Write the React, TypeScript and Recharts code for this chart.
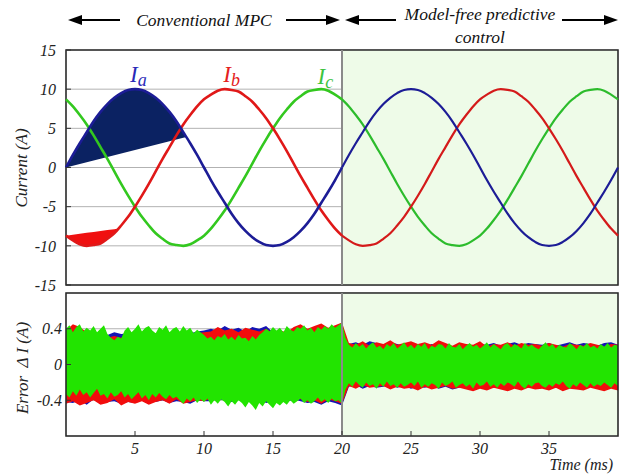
import React from 'react';
import {
  ComposedChart,
  Line,
  Area,
  XAxis,
  YAxis,
  CartesianGrid,
  ReferenceArea,
  ReferenceLine,
  ReferenceDot,
} from 'recharts';

const FONT = 'Liberation Serif, Tinos, Times, Nimbus Roman, DejaVu Serif, serif';

// ---------- data ----------
const TIME_STEP_MS = 0.5;
const ERR_STEP_MS = 0.25;
const SWITCH_MS = 20;
const X_TICKS = [5, 10, 15, 20, 25, 30, 35];
const Y_TICKS_TOP = [-15, -10, -5, 0, 5, 10, 15];
const Y_TICKS_ERR = [-0.4, 0, 0.4];

const IA = [
  0, 1.6, 3.1, 4.5, 5.9, 7.1, 8.1, 8.9, 9.5, 9.9, 10, 9.9, 9.5, 8.9, 8.1, 7.1, 5.9, 4.5, 3.1, 1.6,
  0, -1.6, -3.1, -4.5, -5.9, -7.1, -8.1, -8.9, -9.5, -9.9, -10, -9.9, -9.5, -8.9, -8.1, -7.1, -5.9, -4.5, -3.1, -1.6,
  0, 1.6, 3.1, 4.5, 5.9, 7.1, 8.1, 8.9, 9.5, 9.9, 10, 9.9, 9.5, 8.9, 8.1, 7.1, 5.9, 4.5, 3.1, 1.6,
  0, -1.6, -3.1, -4.5, -5.9, -7.1, -8.1, -8.9, -9.5, -9.9, -10, -9.9, -9.5, -8.9, -8.1, -7.1, -5.9, -4.5, -3.1, -1.6,
  0,
];
const IB = [
  -8.7, -9.3, -9.8, -10, -9.9, -9.7, -9.1, -8.4, -7.4, -6.3, -5, -3.6, -2.1, -0.5, 1.1, 2.6, 4.1, 5.5, 6.7, 7.8,
  8.7, 9.3, 9.8, 10, 9.9, 9.7, 9.1, 8.4, 7.4, 6.3, 5, 3.6, 2.1, 0.5, -1.1, -2.6, -4.1, -5.5, -6.7, -7.8,
  -8.7, -9.3, -9.8, -10, -9.9, -9.7, -9.1, -8.4, -7.4, -6.3, -5, -3.6, -2.1, -0.5, 1.1, 2.6, 4.1, 5.5, 6.7, 7.8,
  8.7, 9.3, 9.8, 10, 9.9, 9.7, 9.1, 8.4, 7.4, 6.3, 5, 3.6, 2.1, 0.5, -1.1, -2.6, -4.1, -5.5, -6.7, -7.8,
  -8.7,
];
const IC = [
  8.7, 7.8, 6.7, 5.5, 4.1, 2.6, 1.1, -0.5, -2.1, -3.6, -5, -6.3, -7.4, -8.4, -9.1, -9.7, -9.9, -10, -9.8, -9.3,
  -8.7, -7.8, -6.7, -5.5, -4.1, -2.6, -1.1, 0.5, 2.1, 3.6, 5, 6.3, 7.4, 8.4, 9.1, 9.7, 9.9, 10, 9.8, 9.3,
  8.7, 7.8, 6.7, 5.5, 4.1, 2.6, 1.1, -0.5, -2.1, -3.6, -5, -6.3, -7.4, -8.4, -9.1, -9.7, -9.9, -10, -9.8, -9.3,
  -8.7, -7.8, -6.7, -5.5, -4.1, -2.6, -1.1, 0.5, 2.1, 3.6, 5, 6.3, 7.4, 8.4, 9.1, 9.7, 9.9, 10, 9.8, 9.3,
  8.7,
];

// end points (time ms, current A) of the filled chords on Ia and Ib
const IA_FILL_END = [8.75, 3.9];
const IB_FILL_END = [3.8, -7.8];

// green (Ic error) envelope, 0.25 ms resolution
const G_HI = [
  0.40, 0.44, 0.36, 0.42, 0.45, 0.37, 0.41, 0.38, 0.43, 0.36, 0.40, 0.44, 0.34, 0.30, 0.27, 0.31,
  0.29, 0.38, 0.42, 0.36, 0.40, 0.45, 0.37, 0.41, 0.43, 0.38, 0.35, 0.42, 0.39, 0.44, 0.36, 0.40,
  0.42, 0.37, 0.43, 0.38, 0.41, 0.35, 0.39, 0.36, 0.33, 0.29, 0.31, 0.27, 0.32, 0.30, 0.34, 0.28,
  0.31, 0.27, 0.33, 0.29, 0.30, 0.26, 0.32, 0.28, 0.33, 0.36, 0.40, 0.37, 0.42, 0.38, 0.41, 0.36,
  0.43, 0.39, 0.37, 0.42, 0.40, 0.44, 0.38, 0.41, 0.36, 0.42, 0.39, 0.43, 0.40, 0.45, 0.41, 0.44,
  0.47,
  0.30, 0.22, 0.19, 0.24, 0.20, 0.23, 0.18, 0.22, 0.25, 0.19, 0.21, 0.17, 0.23, 0.20, 0.24, 0.18,
  0.21, 0.25, 0.19, 0.22, 0.18, 0.23, 0.20, 0.24, 0.17, 0.21, 0.19, 0.23, 0.22, 0.18, 0.24, 0.20,
  0.19, 0.23, 0.17, 0.21, 0.24, 0.20, 0.22, 0.18, 0.21, 0.25, 0.19, 0.23, 0.20, 0.17, 0.22, 0.24,
  0.19, 0.23, 0.21, 0.18, 0.24, 0.20, 0.22, 0.19, 0.17, 0.21, 0.25, 0.20, 0.23, 0.18, 0.22, 0.20,
  0.19, 0.24, 0.21, 0.17, 0.22, 0.20, 0.24, 0.19, 0.21, 0.18, 0.23, 0.20, 0.24, 0.19, 0.22, 0.21,
];
const G_LO = [
  -0.33, -0.37, -0.30, -0.35, -0.28, -0.34, -0.31, -0.37, -0.32, -0.27, -0.35, -0.33, -0.38, -0.31, -0.36, -0.34,
  -0.30, -0.37, -0.33, -0.39, -0.35, -0.31, -0.38, -0.34, -0.40, -0.33, -0.37, -0.32, -0.36, -0.39, -0.34, -0.38,
  -0.36, -0.40, -0.44, -0.38, -0.41, -0.37, -0.43, -0.39, -0.42, -0.38, -0.45, -0.40, -0.44, -0.39, -0.42, -0.47,
  -0.41, -0.45, -0.40, -0.43, -0.48, -0.42, -0.46, -0.51, -0.43, -0.47, -0.41, -0.45, -0.49, -0.43, -0.46, -0.42,
  -0.45, -0.40, -0.44, -0.41, -0.38, -0.43, -0.40, -0.44, -0.41, -0.37, -0.42, -0.39, -0.43, -0.38, -0.41, -0.40,
  -0.44,
  -0.28, -0.21, -0.25, -0.19, -0.23, -0.26, -0.20, -0.24, -0.22, -0.27, -0.21, -0.25, -0.19, -0.24, -0.22, -0.26,
  -0.21, -0.25, -0.23, -0.20, -0.24, -0.19, -0.26, -0.22, -0.25, -0.21, -0.23, -0.27, -0.20, -0.24, -0.22, -0.19,
  -0.26, -0.23, -0.21, -0.25, -0.22, -0.27, -0.20, -0.24, -0.23, -0.19, -0.25, -0.22, -0.26, -0.21, -0.24, -0.20,
  -0.22, -0.25, -0.19, -0.24, -0.27, -0.22, -0.25, -0.21, -0.20, -0.24, -0.26, -0.22, -0.25, -0.21, -0.23, -0.19,
  -0.24, -0.27, -0.22, -0.25, -0.20, -0.23, -0.26, -0.21, -0.25, -0.22, -0.24, -0.20, -0.23, -0.26, -0.21, -0.24,
];

// red (Ib error) and blue (Ia error) envelopes, 0.5 ms resolution
const R_HI = [
  0.38, 0.45, 0.42, 0.36, 0.33, 0.35, 0.30, 0.32, 0.30, 0.36, 0.34, 0.37, 0.33, 0.35, 0.32, 0.36, 0.34, 0.37, 0.33, 0.35, 0.36,
  0.37, 0.42, 0.38, 0.40, 0.36, 0.41, 0.39, 0.37, 0.40, 0.35, 0.38, 0.36, 0.42, 0.45, 0.40, 0.43, 0.46, 0.41, 0.44, 0.47,
  0.24, 0.22, 0.26, 0.21, 0.25, 0.23, 0.27, 0.22, 0.24, 0.26, 0.23, 0.25, 0.22, 0.27, 0.24, 0.21, 0.25, 0.23, 0.22, 0.26,
  0.20, 0.23, 0.22, 0.25, 0.21, 0.24, 0.22, 0.23, 0.21, 0.24, 0.22, 0.20, 0.23, 0.22, 0.21, 0.24, 0.22, 0.20, 0.23, 0.22,
];
const R_LO = [
  -0.44, -0.41, -0.46, -0.43, -0.40, -0.45, -0.43, -0.39, -0.46, -0.42, -0.44, -0.41, -0.45, -0.42, -0.40, -0.44, -0.39, -0.44, -0.42, -0.40, -0.41,
  -0.38, -0.35, -0.37, -0.39, -0.36, -0.38, -0.40, -0.37, -0.39, -0.36, -0.38, -0.40, -0.37, -0.39, -0.42, -0.40, -0.44, -0.39, -0.41, -0.44,
  -0.24, -0.27, -0.23, -0.26, -0.25, -0.24, -0.28, -0.25, -0.27, -0.26, -0.29, -0.25, -0.28, -0.26, -0.24, -0.27, -0.26, -0.28, -0.30, -0.27,
  -0.29, -0.26, -0.28, -0.30, -0.27, -0.29, -0.26, -0.28, -0.27, -0.29, -0.26, -0.30, -0.27, -0.28, -0.29, -0.26, -0.28, -0.30, -0.27, -0.29,
];
const B_HI = [
  0.35, 0.37, 0.34, 0.38, 0.36, 0.35, 0.33, 0.36, 0.34, 0.35, 0.33, 0.36, 0.34, 0.32, 0.35, 0.34, 0.33, 0.36, 0.35, 0.37, 0.38,
  0.40, 0.38, 0.43, 0.39, 0.41, 0.37, 0.42, 0.40, 0.43, 0.36, 0.35, 0.37, 0.34, 0.36, 0.35, 0.37, 0.34, 0.36, 0.35, 0.38,
  0.23, 0.25, 0.22, 0.26, 0.24, 0.22, 0.25, 0.23, 0.21, 0.24, 0.22, 0.20, 0.23, 0.21, 0.22, 0.20, 0.23, 0.22, 0.21, 0.23,
  0.22, 0.24, 0.21, 0.23, 0.25, 0.22, 0.24, 0.23, 0.22, 0.24, 0.21, 0.23, 0.25, 0.22, 0.24, 0.23, 0.21, 0.24, 0.25, 0.22,
];
const B_LO = [
  -0.42, -0.43, -0.40, -0.45, -0.39, -0.43, -0.42, -0.41, -0.44, -0.42, -0.43, -0.39, -0.41, -0.42, -0.40, -0.43, -0.41, -0.42, -0.44, -0.40, -0.41,
  -0.41, -0.39, -0.40, -0.42, -0.38, -0.41, -0.40, -0.39, -0.43, -0.41, -0.40, -0.42, -0.39, -0.41, -0.43, -0.42, -0.45, -0.41, -0.43, -0.46,
  -0.25, -0.23, -0.27, -0.24, -0.26, -0.25, -0.23, -0.26, -0.24, -0.27, -0.25, -0.26, -0.24, -0.27, -0.25, -0.28, -0.26, -0.24, -0.27, -0.25,
  -0.24, -0.26, -0.25, -0.23, -0.25, -0.24, -0.26, -0.23, -0.25, -0.24, -0.26, -0.25, -0.23, -0.26, -0.24, -0.25, -0.23, -0.26, -0.24, -0.25,
];

// ---------- build tables ----------
const TIME = IA.map((_, i) => i * TIME_STEP_MS);

const chordIA = (t: number) => IA[0] + ((IA_FILL_END[1] - IA[0]) * t) / IA_FILL_END[0];
const chordIB = (t: number) => IB[0] + ((IB_FILL_END[1] - IB[0]) * t) / IB_FILL_END[0];

const topRows: any[] = TIME.map((t, i) => {
  const row: any = { t };
  if (t <= SWITCH_MS) {
    row.ia1 = IA[i];
    row.ib1 = IB[i];
    row.ic1 = IC[i];
  }
  if (t >= SWITCH_MS) {
    row.ia2 = IA[i];
    row.ib2 = IB[i];
    row.ic2 = IC[i];
  }
  if (t < IA_FILL_END[0]) row.iaFill = [chordIA(t), IA[i]];
  if (t < IB_FILL_END[0]) row.ibFill = [IB[i], chordIB(t)];
  return row;
});
topRows.push({ t: IA_FILL_END[0], iaFill: [IA_FILL_END[1], IA_FILL_END[1]] });
topRows.push({ t: IB_FILL_END[0], ibFill: [IB_FILL_END[1], IB_FILL_END[1]] });
topRows.sort((a, b) => a.t - b.t);

const errRows = G_HI.map((_, j) => {
  const t = j * ERR_STEP_MS;
  const row: any = { t, g: [G_LO[j], G_HI[j]] };
  if (j % 2 === 0) {
    const i = j / 2;
    row.r = [R_LO[i], R_HI[i]];
    row.b = [B_LO[i], B_HI[i]];
  }
  return row;
});

// ---------- styling ----------
const C_A = '#1c1c96';
const C_A_FILL = '#0b2262';
const C_B = '#e01818';
const C_C = '#2cbc2c';
const SHADE = '#eefbe8';
const tickStyle = { fontFamily: FONT, fontStyle: 'italic', fontSize: 16, fill: '#222' };

const PhaseLabel = (props: any) => {
  const vb = props.viewBox || {};
  const x = (vb.x || 0) + (vb.width || 0) / 2;
  const y = (vb.y || 0) + (vb.height || 0) / 2;
  return (
    <text x={x} y={y} textAnchor="middle" fill={props.color} style={{ fontFamily: FONT, fontStyle: 'italic', fontSize: 23 }}>
      I
      <tspan style={{ fontSize: 18 }} dy={4}>
        {props.sub}
      </tspan>
    </text>
  );
};

const Arrow = ({ tail, head, y }: { tail: number; head: number; y: number }) => {
  const d = head > tail ? 1 : -1;
  return (
    <g>
      <line x1={tail} y1={y} x2={head - d * 10} y2={y} stroke="#000" strokeWidth={2} />
      <polygon points={`${head - d * 14},${y - 5} ${head},${y} ${head - d * 14},${y + 5}`} fill="#000" />
    </g>
  );
};

const headText = { fontFamily: FONT, fontStyle: 'italic' as const, fontSize: 17.5 };

export default function App() {
  return (
    <div style={{ position: 'absolute', left: 0, top: 0, width: 627, height: 476, background: '#fff', fontFamily: FONT }}>
      <div style={{ position: 'absolute', left: 0, top: 0 }}>
        <ComposedChart width={627} height={300} data={topRows} margin={{ top: 50, right: 0, bottom: 15, left: 0 }}>
          <XAxis type="number" dataKey="t" domain={[0, 40]} hide />
          <YAxis
            yAxisId="l"
            type="number"
            domain={[-15, 15]}
            ticks={Y_TICKS_TOP}
            width={66}
            axisLine={false}
            tickSize={-5}
            tickMargin={15}
            tickLine={{ stroke: '#333' }}
            tick={tickStyle}
            interval={0}
          />
          <YAxis
            yAxisId="r"
            orientation="right"
            type="number"
            domain={[-15, 15]}
            ticks={Y_TICKS_TOP}
            width={9}
            axisLine={false}
            tickSize={-5}
            tickLine={{ stroke: '#333' }}
            tickFormatter={() => ''}
            interval={0}
          />
          <ReferenceArea yAxisId="l" x1={SWITCH_MS} x2={40} y1={-15} y2={15} fill={SHADE} fillOpacity={1} stroke="none" />
          <CartesianGrid yAxisId="l" vertical={false} stroke="#b2b2b2" strokeWidth={1} />
          <ReferenceLine yAxisId="l" x={SWITCH_MS} stroke="#8a8a8a" strokeWidth={2} />
          <Area yAxisId="l" type="linear" dataKey="iaFill" stroke="none" fill={C_A_FILL} fillOpacity={1} isAnimationActive={false} connectNulls />
          <Area yAxisId="l" type="linear" dataKey="ibFill" stroke="none" fill="#f01010" fillOpacity={1} isAnimationActive={false} connectNulls />
          <Line yAxisId="l" type="monotone" dataKey="ic1" stroke="#33c81f" strokeWidth={2.6} dot={false} connectNulls isAnimationActive={false} />
          <Line yAxisId="l" type="monotone" dataKey="ib1" stroke={C_B} strokeWidth={2.6} dot={false} connectNulls isAnimationActive={false} />
          <Line yAxisId="l" type="monotone" dataKey="ia1" stroke={C_A} strokeWidth={2.6} dot={false} connectNulls isAnimationActive={false} />
          <Line yAxisId="l" type="monotone" dataKey="ic2" stroke={C_C} strokeWidth={2.2} dot={false} connectNulls isAnimationActive={false} />
          <Line yAxisId="l" type="monotone" dataKey="ib2" stroke="#d41a1a" strokeWidth={2.2} dot={false} connectNulls isAnimationActive={false} />
          <Line yAxisId="l" type="monotone" dataKey="ia2" stroke={C_A} strokeWidth={2.2} dot={false} connectNulls isAnimationActive={false} />
          <ReferenceArea yAxisId="l" x1={0} x2={40} y1={-15} y2={15} fill="none" stroke="#2a2a2a" strokeWidth={1.6} />
          <ReferenceDot yAxisId="l" x={5.25} y={10.9} r={0} fill="none" stroke="none" label={<PhaseLabel sub="a" color="#2a2ab8" />} />
          <ReferenceDot yAxisId="l" x={12.0} y={10.9} r={0} fill="none" stroke="none" label={<PhaseLabel sub="b" color="#e42020" />} />
          <ReferenceDot yAxisId="l" x={18.8} y={10.7} r={0} fill="none" stroke="none" label={<PhaseLabel sub="c" color="#3ec43e" />} />
          <g>
            <Arrow tail={120} head={68} y={20} />
            <text x={204} y={26} textAnchor="middle" fill="#111" style={headText}>Conventional MPC</text>
            <Arrow tail={286} head={340} y={20} />
            <Arrow tail={396} head={345} y={20} />
            <text x={480} y={20} textAnchor="middle" fill="#111" style={headText}>Model-free predictive</text>
            <text x={480} y={43} textAnchor="middle" fill="#111" style={headText}>control</text>
            <Arrow tail={562} head={618} y={20} />
            <text x={21} y={168} textAnchor="middle" dominantBaseline="central" transform="rotate(-90 21 168)" fill="#222" style={{ fontFamily: FONT, fontStyle: 'italic', fontSize: 17 }}>
              Current (A)
            </text>
          </g>
        </ComposedChart>
      </div>
      <div style={{ position: 'absolute', left: 0, top: 288 }}>
        <ComposedChart width={627} height={188} data={errRows} margin={{ top: 5, right: 9, bottom: 0, left: 0 }}>
          <XAxis
            type="number"
            dataKey="t"
            domain={[0, 40]}
            ticks={X_TICKS}
            height={40}
            axisLine={false}
            tickSize={-5}
            tickMargin={12}
            tickLine={{ stroke: '#333' }}
            tick={tickStyle}
            interval={0}
          />
          <YAxis
            type="number"
            domain={[-0.8, 0.8]}
            ticks={Y_TICKS_ERR}
            width={66}
            axisLine={false}
            tickSize={-5}
            tickMargin={9}
            tickLine={{ stroke: '#333' }}
            tick={tickStyle}
            tickFormatter={(v: number) => (v === 0 ? '0' : String(v))}
            interval={0}
          />
          <ReferenceArea x1={SWITCH_MS} x2={40} y1={-0.8} y2={0.8} fill={SHADE} fillOpacity={1} stroke="none" />
          <CartesianGrid vertical={false} stroke="#b2b2b2" strokeWidth={1} />
          <ReferenceLine x={SWITCH_MS} stroke="#8a8a8a" strokeWidth={2} />
          <Area type="linear" dataKey="b" stroke="none" fill="#1414b4" fillOpacity={1} isAnimationActive={false} connectNulls />
          <Area type="linear" dataKey="r" stroke="none" fill="#f20c0c" fillOpacity={1} isAnimationActive={false} connectNulls />
          <Area type="linear" dataKey="g" stroke="none" fill="#22e400" fillOpacity={1} isAnimationActive={false} />
          <ReferenceArea x1={0} x2={40} y1={-0.8} y2={0.8} fill="none" stroke="#2a2a2a" strokeWidth={1.6} />
          <g>
            <text x={22} y={80} textAnchor="middle" dominantBaseline="central" transform="rotate(-90 22 80)" fill="#222" xmlSpace="preserve" style={{ fontFamily: FONT, fontStyle: 'italic', fontSize: 17, whiteSpace: 'pre' }}>
              {'Error  Δ I (A)'}
            </text>
            <text x={613} y={182} textAnchor="end" fill="#222" style={{ fontFamily: FONT, fontStyle: 'italic', fontSize: 16 }}>
              Time (ms)
            </text>
          </g>
        </ComposedChart>
      </div>
    </div>
  );
}
